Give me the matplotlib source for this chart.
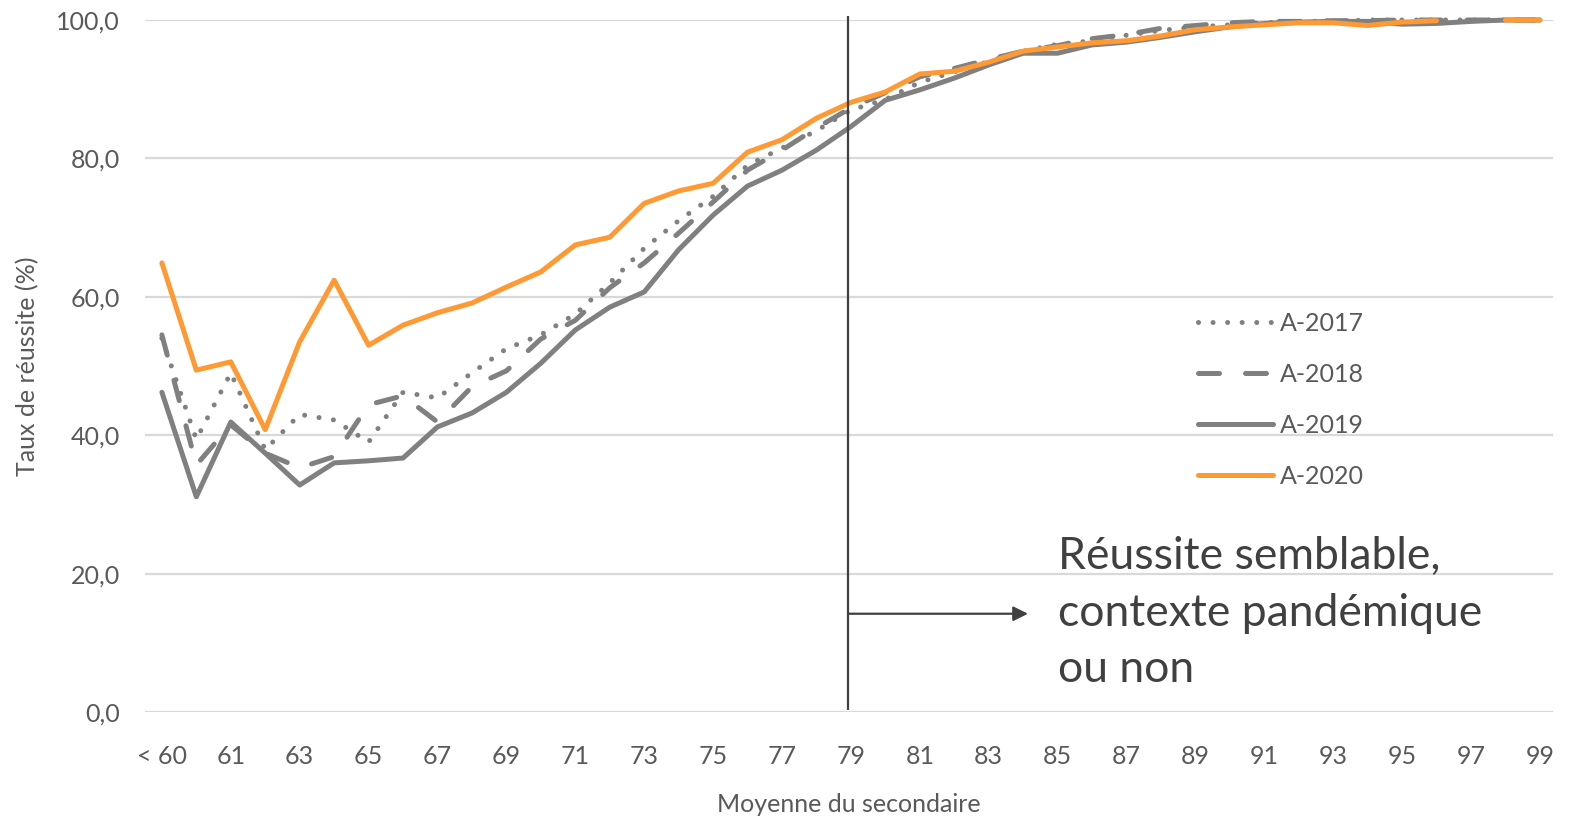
import numpy as np
import matplotlib.pyplot as plt

# categories on the x axis
categories = ["< 60", "60", "61", "62", "63", "64", "65", "66", "67", "68", "69",
              "70", "71", "72", "73", "74", "75", "76", "77", "78", "79",
              "80", "81", "82", "83", "84", "85", "86", "87", "88", "89",
              "90", "91", "92", "93", "94", "95", "96", "97", "98", "99"]

a2017 = [54.0, 39.4, 49.0, 37.9, 43.0, 42.2, 39.0, 46.2, 45.4, 49.0, 52.5,
         54.5, 57.5, 62.0, 67.0, 71.0, 74.5, 79.0, 81.5, 84.0, 87.0,
         88.5, 91.0, 92.5, 94.0, 95.5, 96.5, 97.0, 97.8, 98.5, 99.0,
         99.3, 99.6, 99.8, 99.8, 100.0, 100.0, 100.0, 100.0, 100.0, 100.0]

a2018 = [54.5, 35.7, 41.5, 37.4, 35.3, 36.9, 44.4, 45.7, 41.9, 47.0, 49.3,
         53.9, 56.6, 61.3, 64.9, 69.2, 73.7, 78.3, 81.2, 84.4, 87.3,
         89.5, 91.8, 93.0, 94.3, 95.5, 96.3, 97.3, 97.9, 98.8, 99.2,
         99.6, 99.8, 99.8, 99.9, 99.9, 100.0, 100.0, 100.0, 100.0, 100.0]

a2019 = [46.2, 31.1, 41.9, 37.4, 32.8, 36.0, 36.3, 36.7, 41.2, 43.2, 46.2,
         50.4, 55.2, 58.5, 60.7, 66.8, 71.8, 76.0, 78.3, 81.2, 84.6,
         88.4, 89.9, 91.6, 93.5, 95.2, 95.2, 96.4, 96.8, 97.5, 98.3,
         99.0, 99.5, 99.7, 99.8, 99.8, 99.4, 99.5, 99.8, 100.0, 100.0]

a2020 = [64.9, 49.4, 50.6, 40.8, 53.5, 62.4, 53.0, 55.9, 57.7, 59.1, 61.4,
         63.6, 67.5, 68.6, 73.5, 75.3, 76.4, 80.9, 82.7, 85.8, 88.1,
         89.6, 92.2, 92.6, 93.9, 95.5, 96.1, 96.7, 97.0, 97.7, 98.6,
         99.0, 99.3, 99.6, 99.6, 99.2, 99.7, 99.9, np.nan, 100.0, 100.0]

yticks = [0, 20, 40, 60, 80, 100]

GRAY = "#808080"
ORANGE = "#FF9933"
TXT = "#595959"

plt.rcParams['font.family'] = ['Lato', 'DejaVu Sans']

fig = plt.figure(figsize=(15.69, 8.21), dpi=100)
ax = fig.add_axes([145 / 1569, 1 - 712 / 821, (1553 - 145) / 1569, (712 - 20) / 821])

x = np.arange(len(categories))
lw = 3.6
ax.plot(x, a2017, color=GRAY, lw=lw, linestyle=(0, (0.01, 2.9)),
        dash_capstyle='round', label="A-2017", clip_on=False)
ax.plot(x, a2018, color=GRAY, lw=lw, linestyle=(0, (4.2, 5.2)),
        dash_capstyle='round', label="A-2018", clip_on=False)
ax.plot(x, a2019, color=GRAY, lw=lw, solid_capstyle='round', label="A-2019", clip_on=False)
ax.plot(x, a2020, color=ORANGE, lw=lw, solid_capstyle='round', label="A-2020", clip_on=False)

ax.set_xlim(-0.49, 40.38)
ax.set_ylim(0, 100)
ax.set_yticks(yticks)
ax.set_yticklabels([f"{v:.1f}".replace(".", ",") for v in yticks])
ax.set_xticks(x[::2])
ax.set_xticklabels(categories[::2])
ax.grid(axis='y', color="#D9D9D9", lw=1.6)
ax.set_axisbelow(True)
for s in ax.spines.values():
    s.set_visible(False)
ax.tick_params(axis='both', length=0, labelsize=18, colors=TXT)
ax.tick_params(axis='x', pad=24)
ax.tick_params(axis='y', pad=18)

ax.set_xlabel("Moyenne du secondaire", fontsize=18, color=TXT, labelpad=18)
ax.set_ylabel("Taux de réussite (%)", fontsize=18, color=TXT, labelpad=12)

# vertical marker at 79 and arrow
ax.vlines(19.92, 0.3, 100.6, color="#404040", lw=1.6, clip_on=False)
ax.annotate("", xy=(25.14, 14.2), xytext=(19.92, 14.2),
            arrowprops=dict(arrowstyle='-|>', color="#404040", lw=1.6,
                            mutation_scale=22, shrinkA=0, shrinkB=0))
ax.text(26.0, 14.3, "Réussite semblable,\ncontexte pandémique\nou non",
        fontsize=32, color="#404040", va='center', ha='left', linespacing=1.48)

leg = ax.legend(loc='center left', bbox_to_anchor=(1175 / 1569, 1 - 400 / 821),
                bbox_transform=fig.transFigure, frameon=False, fontsize=18,
                handlelength=3.0, handletextpad=0.3, labelspacing=1.12)
for t in leg.get_texts():
    t.set_color(TXT)

fig.savefig("out.png", dpi=100)
